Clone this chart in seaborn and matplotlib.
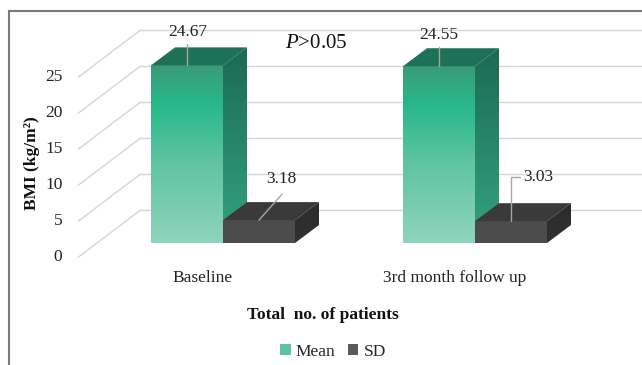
import numpy as np
import pandas as pd
import matplotlib
matplotlib.use("Agg")
import matplotlib.pyplot as plt
import seaborn as sns
from matplotlib.patches import Polygon, Patch
from matplotlib.lines import Line2D
from matplotlib.colors import LinearSegmentedColormap

# ---- data -------------------------------------------------------------
groups = ["Baseline", "3rd month follow up"]
stats = ["Mean", "SD"]
mean_values = [24.67, 24.55]
sd_values = [3.18, 3.03]
y_ticks = [0, 5, 10, 15, 20, 25]

df = pd.DataFrame({
    "group": groups * 2,
    "stat": ["Mean"] * len(groups) + ["SD"] * len(groups),
    "BMI": mean_values + sd_values,
})

# ---- style --------------------------------------------------------------
sns.set_theme(style="white")
plt.rcParams["font.family"] = ["Liberation Serif", "DejaVu Serif"]
plt.rcParams["mathtext.fontset"] = "custom"
plt.rcParams["mathtext.rm"] = "Liberation Serif"
plt.rcParams["mathtext.it"] = "Liberation Serif:italic"

W, H, DPI = 642, 365, 100
fig = plt.figure(figsize=(W / DPI, H / DPI), dpi=DPI)
ax = fig.add_axes([0, 0, 1, 1])

# front plane of the bars: pixel of category 0 / value 0 and scales
X0_PX, Y0_PX = 223, 243
PX_PER_CAT, PX_PER_UNIT = 252, 7.2


def dx(px):
    return px / PX_PER_CAT


def dy(px):
    # pixel offset (downwards positive) -> data offset
    return -px / PX_PER_UNIT


# depth of the box: front floor edge and back wall relative to bar fronts
FRONT = (-18.6, 14.1)
BACK = (43.4, -32.9)
BAR_DEPTH = (24, -18)
FS = 12.5

palette = {"Mean": "#5fc3a1", "SD": "#4c4c4c"}
sns.barplot(data=df, x="group", y="BMI", hue="stat", order=groups,
            hue_order=stats, palette=palette, width=144 / 252,
            legend=False, ax=ax, saturation=1, linewidth=0, zorder=2)

x_left = -0.5
x_right = dx(W - X0_PX)

# back wall grid lines and side wall diagonals
grid_color = "#d6d6d6"
for v in y_ticks:
    bx, by = x_left + dx(BACK[0]), v + dy(BACK[1])
    fx, fy = x_left + dx(FRONT[0]), v + dy(FRONT[1])
    ax.plot([bx, x_right + 1], [by, by], color=grid_color, lw=1.0, zorder=0.5)
    ax.plot([fx, bx], [fy, by], color=grid_color, lw=1.0, zorder=0.5)
    ax.text(x_left + dx(FRONT[0] - 16), fy, f"{v}", ha="right", va="center",
            fontsize=FS, color="#222222")


def gradient_face(xy, stops, zorder):
    poly = Polygon(xy, closed=True, facecolor="none", edgecolor="none",
                   zorder=zorder)
    ax.add_patch(poly)
    xs, ys = zip(*xy)
    cmap = LinearSegmentedColormap.from_list("face", stops)
    grad = np.linspace(0, 1, 256).reshape(-1, 1)
    im = ax.imshow(grad, extent=[min(xs), max(xs), min(ys), max(ys)],
                   origin="lower", cmap=cmap, aspect="auto", zorder=zorder,
                   interpolation="bilinear")
    im.set_clip_path(poly)


face_styles = {
    "Mean": dict(front=[(0, "#8fd4bd"), (0.45, "#60c4a2"), (0.78, "#28b88a"),
                        (1, "#3a9a79")],
                 side=[(0, "#34a380"), (1, "#1c6a52")],
                 top="#1c7156"),
    "SD": dict(front=None, side=[(0, "#303030"), (1, "#2c2c2c")],
               top="#3a3a3a"),
}

ddx, ddy = dx(BAR_DEPTH[0]), dy(BAR_DEPTH[1])
bars = list(ax.patches)
n = len(groups)
bar_info = []
for i, bar in enumerate(bars):
    stat = stats[i // n]
    gi = i % n
    z = 2 + (i // n)
    bar.set_zorder(z)
    x0, w, h = bar.get_x(), bar.get_width(), bar.get_height()
    style = face_styles[stat]
    if style["front"] is not None:
        gradient_face([(x0, 0), (x0 + w, 0), (x0 + w, h), (x0, h)],
                      style["front"], z + 0.1)
    # side face
    gradient_face([(x0 + w, 0), (x0 + w + ddx, ddy), (x0 + w + ddx, h + ddy),
                   (x0 + w, h)], style["side"], z + 0.1)
    # top face
    ax.add_patch(Polygon([(x0, h), (x0 + w, h), (x0 + w + ddx, h + ddy),
                          (x0 + ddx, h + ddy)], closed=True,
                         facecolor=style["top"], edgecolor="none",
                         zorder=z + 0.1))
    bar_info.append((stat, gi, x0, w, h))

# value labels with leader lines (pixel offsets from bar top centre)
label_offsets = {("Mean", 0): (1, -33), ("Mean", 1): (0, -31),
                 ("SD", 0): (22, -41), ("SD", 1): (27, -44)}
leaders = {("Mean", 0): [(0, 0), (0, -21)],
           ("Mean", 1): [(0, 0), (0, -19)],
           ("SD", 0): [(0, 0), (23, -26)],
           ("SD", 1): [(0, 0), (0, -44), (9, -44)]}
for stat, gi, x0, w, h in bar_info:
    cx = x0 + w / 2
    ox, oy = label_offsets[(stat, gi)]
    ax.text(cx + dx(ox), h + dy(oy), f"{h:.2f}", ha="center", va="center",
            fontsize=FS, color="#222222", zorder=6)
    path = leaders[(stat, gi)]
    ax.plot([cx + dx(p[0]) for p in path], [h + dy(p[1]) for p in path],
            color="#a6a6a6", lw=1.0, zorder=6)

# category labels at the front edge of the floor
for gi, g in enumerate(groups):
    left = [b for b in bar_info if b[1] == gi]
    gx0 = min(b[2] for b in left)
    gx1 = max(b[2] + b[3] for b in left)
    ax.text((gx0 + gx1) / 2 + dx(-20), dy(35), g, ha="center", va="center",
            fontsize=FS, color="#222222")

ax.set_xlim(dx(-X0_PX), x_right)
ax.set_ylim(dy(H - Y0_PX), dy(-Y0_PX))
ax.set_axis_off()

# titles, annotation and legend
fig.text(32 / W, 1 - 163 / H, "BMI (kg/m²)", rotation=90, ha="center",
         va="center", fontsize=FS, fontweight="bold", color="#111111")
fig.text(323 / W, 1 - 315 / H, "Total  no. of patients", ha="center",
         va="center", fontsize=FS, fontweight="bold", color="#111111")
fig.text(316 / W, 1 - 43 / H, r"$P$>0.05", ha="center", va="center",
         fontsize=15, color="#111111")

handles = [Patch(facecolor="#5fc3a1", edgecolor="none", label="Mean"),
           Patch(facecolor="#5a5a5a", edgecolor="none", label="SD")]
fig.legend(handles=handles, loc="center", bbox_to_anchor=(333 / W, 1 - 352 / H),
           ncol=2, frameon=False, fontsize=FS, handlelength=0.6,
           handleheight=0.6, columnspacing=0.7, handletextpad=0.3)

# outer frame (top and left edges)
fig.add_artist(Line2D([9 / W, 1], [1 - 11 / H, 1 - 11 / H], color="#7a7a7a",
                      lw=1.5, transform=fig.transFigure))
fig.add_artist(Line2D([9 / W, 9 / W], [0, 1 - 11 / H], color="#7a7a7a",
                      lw=1.5, transform=fig.transFigure))

fig.savefig("out.png", dpi=DPI)
